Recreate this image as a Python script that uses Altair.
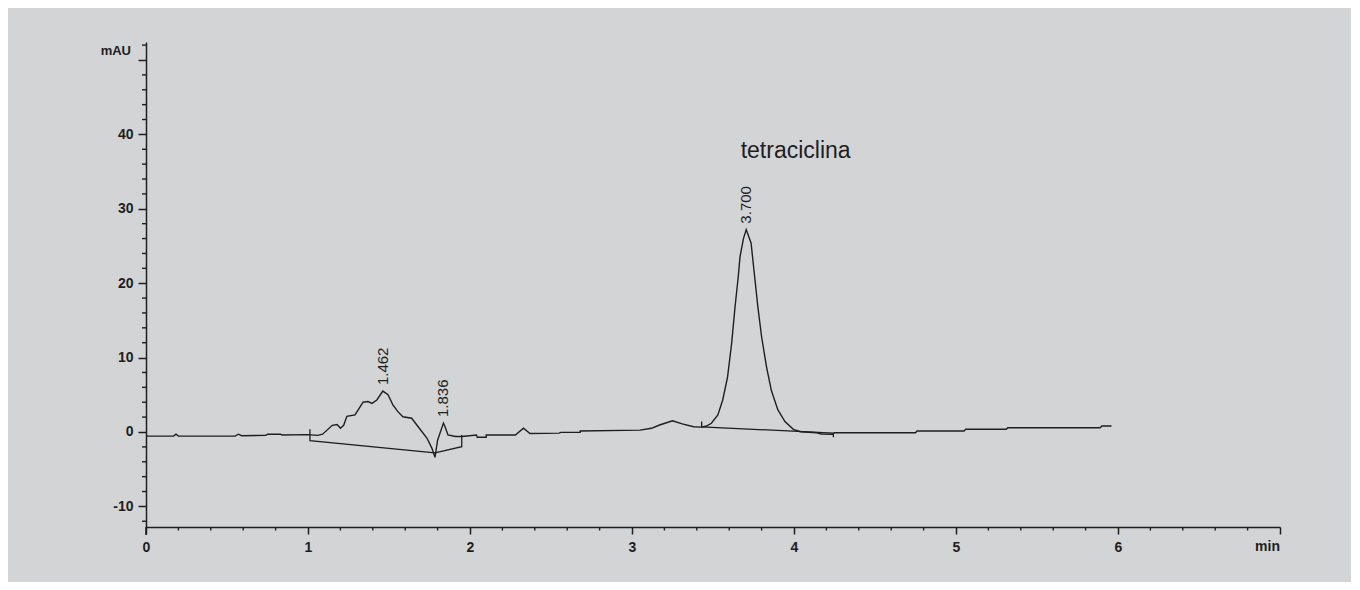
import altair as alt
import pandas as pd

# ---- data ----
trace_x = [0.00, 0.17, 0.185, 0.20, 0.55, 0.57, 0.59, 0.74, 0.75, 0.83, 0.84, 1.00,
           1.06, 1.09, 1.15, 1.18, 1.20, 1.22, 1.24, 1.29, 1.34, 1.37, 1.395, 1.425,
           1.462, 1.494, 1.525, 1.556, 1.586, 1.64, 1.68, 1.735, 1.765, 1.784, 1.80,
           1.836, 1.846, 1.864, 1.91, 1.95, 2.04, 2.045, 2.10, 2.10, 2.28, 2.33, 2.37,
           2.55, 2.56, 2.68, 2.68, 3.05, 3.12, 3.17, 3.25, 3.31, 3.38, 3.43, 3.46,
           3.49, 3.53, 3.56, 3.59, 3.615, 3.636, 3.656, 3.667, 3.688, 3.705, 3.735,
           3.755, 3.777, 3.80, 3.83, 3.86, 3.90, 3.944, 3.996, 4.04, 4.14, 4.17,
           4.24, 4.25, 4.75, 4.76, 5.05, 5.06, 5.31, 5.32, 5.89, 5.90, 5.96]
trace_y = [-0.55, -0.55, -0.3, -0.55, -0.55, -0.3, -0.5, -0.45, -0.3, -0.3, -0.4, -0.35,
           -0.45, -0.3, 0.9, 1.0, 0.5, 0.9, 2.1, 2.3, 4.0, 4.1, 3.85, 4.3,
           5.5, 5.0, 3.6, 2.7, 2.05, 1.85, 0.7, -0.85, -2.2, -3.4, -1.1,
           1.2, 0.7, -0.4, -0.6, -0.6, -0.4, -0.7, -0.7, -0.4, -0.4, 0.5, -0.2,
           -0.15, -0.05, -0.05, 0.13, 0.25, 0.5, 0.94, 1.5, 1.1, 0.7, 0.65, 0.8,
           1.17, 2.3, 4.3, 7.4, 11.9, 16.8, 20.9, 23.6, 26.0, 27.2, 25.4,
           21.3, 16.8, 12.8, 8.8, 5.6, 3.0, 1.4, 0.36, 0.04, -0.1, -0.27,
           -0.3, -0.1, -0.1, 0.13, 0.13, 0.36, 0.36, 0.58, 0.58, 0.8, 0.8]

# integration baselines and their markers
base_seg = ["a", "a", "a", "b", "b", "b", "c", "c", "c", "c"]
base_x = [1.012, 1.012, 1.784, 1.784, 1.949, 1.949, 3.43, 3.43, 4.243, 4.243]
base_y = [0.36, -1.17, -2.8, -2.8, -1.97, -0.4, 1.4, 0.7, -0.15, -0.7]

peak_x = [1.462, 1.836, 3.705]
peak_y = [5.5, 1.2, 27.2]
peak_label = ["1.462", "1.836", "3.700"]

compound_name = ["tetraciclina"]
compound_x = [4.01]
compound_y = [36.8]

x_major = [0, 1, 2, 3, 4, 5, 6, 7]
x_minor = [round(i * 0.2, 1) for i in range(1, 35) if i % 5]
y_major = [-10, 0, 10, 20, 30, 40, 50]
y_minor = [v for v in range(-12, 53, 2) if v % 10]
y_unit = ["mAU"]
y_unit_pos = [51.2]
x_unit = ["min"]
x_unit_pos = [7]

# ---- frames ----
df_trace = pd.DataFrame({"t": trace_x, "v": trace_y, "i": range(len(trace_x))})
df_base = pd.DataFrame({"t": base_x, "v": base_y, "seg": base_seg,
                        "i": range(len(base_x))})
df_peaks = pd.DataFrame({"t": peak_x, "v": peak_y, "lab": peak_label})
df_name = pd.DataFrame({"t": compound_x, "v": compound_y, "lab": compound_name})
df_xminor = pd.DataFrame({"t": x_minor})
df_yminor = pd.DataFrame({"v": y_minor})
df_unit = pd.DataFrame({"v": y_unit_pos, "lab": y_unit})
df_xunit = pd.DataFrame({"t": x_unit_pos, "lab": x_unit})

W, H = 1134, 485
FONT = "Liberation Sans"
INK = "#1e1e1e"
BG = "#d3d4d6"

xscale = alt.Scale(domain=[0, 7], nice=False, zero=False)
yscale = alt.Scale(domain=[-12.77, 52.42], nice=False, zero=False)

x_axis = alt.Axis(values=x_major, title=None, grid=False, tickSize=7, tickWidth=1.5,
                  tickColor=INK, domainColor=INK, domainWidth=1.5,
                  labelFont=FONT, labelFontSize=14, labelFontWeight="bold",
                  labelColor=INK, labelPadding=6, labelFlush=False,
                  labelExpr="datum.value == 7 ? '' : '' + datum.value")
y_axis = alt.Axis(values=y_major, title=None, grid=False, tickSize=8, tickWidth=1.5,
                  tickColor=INK, domainColor=INK, domainWidth=1.5,
                  labelFont=FONT, labelFontSize=14, labelFontWeight="bold",
                  labelColor=INK, labelPadding=5, labelFlush=False,
                  labelExpr="datum.value == 50 ? '' : '' + datum.value")

trace = alt.Chart(df_trace).mark_line(color=INK, strokeWidth=1.4).encode(
    x=alt.X("t:Q", scale=xscale, axis=x_axis),
    y=alt.Y("v:Q", scale=yscale, axis=y_axis),
    order="i:Q",
)

baselines = alt.Chart(df_base).mark_line(color=INK, strokeWidth=1.3).encode(
    x=alt.X("t:Q", scale=xscale),
    y=alt.Y("v:Q", scale=yscale),
    detail="seg:N",
    order="i:Q",
)

peaks = alt.Chart(df_peaks).mark_text(
    angle=270, align="left", baseline="middle", dx=6,
    font=FONT, fontSize=15, color=INK,
).encode(
    x=alt.X("t:Q", scale=xscale),
    y=alt.Y("v:Q", scale=yscale),
    text="lab:N",
)

name = alt.Chart(df_name).mark_text(
    align="center", baseline="alphabetic", font=FONT, fontSize=23, color=INK,
).encode(
    x=alt.X("t:Q", scale=xscale),
    y=alt.Y("v:Q", scale=yscale),
    text="lab:N",
)

xminor = alt.Chart(df_xminor).mark_rule(color=INK, strokeWidth=1.4).encode(
    x=alt.X("t:Q", scale=xscale),
    y=alt.value(H), y2=alt.value(H + 3.5),
)

yminor = alt.Chart(df_yminor).mark_rule(color=INK, strokeWidth=1.4).encode(
    y=alt.Y("v:Q", scale=yscale),
    x=alt.value(-4), x2=alt.value(0),
)

yext = alt.Chart(df_unit).mark_rule(color=INK, strokeWidth=1.5).encode(
    x=alt.value(0), y=alt.value(H), y2=alt.value(H + 8),
)

unit = alt.Chart(df_unit).mark_text(
    align="right", baseline="middle", font=FONT, fontSize=13,
    fontWeight="bold", color=INK,
).encode(
    y=alt.Y("v:Q", scale=yscale),
    x=alt.value(-15),
    text="lab:N",
)

xunit = alt.Chart(df_xunit).mark_text(
    align="right", baseline="top", font=FONT, fontSize=14,
    fontWeight="bold", color=INK,
).encode(
    x=alt.X("t:Q", scale=xscale),
    y=alt.value(H + 13),
    text="lab:N",
)

chart = alt.layer(trace, baselines, peaks, name, xminor, yminor, yext, unit, xunit).properties(
    width=W, height=H,
    autosize=alt.AutoSizeParams(type="none"),
    padding={"left": 138, "top": 34, "right": 71, "bottom": 55},
    background=BG,
).configure_view(stroke=None)

chart.save("out.html", embed_options={"renderer": "svg", "actions": False})
